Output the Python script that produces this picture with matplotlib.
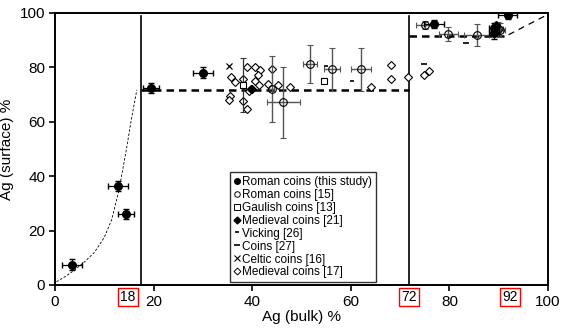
import matplotlib
matplotlib.use("Agg")
import matplotlib.pyplot as plt
from matplotlib.lines import Line2D
import matplotlib.transforms as mtrans

plt.rcParams['font.family'] = ['Liberation Sans', 'DejaVu Sans']

# Roman coins (this study)
rc_x = [3.4, 12.8, 14.4, 19.5, 30.0, 76.9, 89.0, 89.0, 91.8]
rc_y = [7.4, 36.4, 26.1, 72.4, 78.0, 96.0, 94.4, 92.5, 99.3]
rc_xerr = [2.0, 2.0, 1.6, 1.6, 2.0, 2.0, 1.0, 1.0, 2.0]
rc_yerr = [2.0, 2.0, 2.0, 2.0, 2.0, 1.5, 2.0, 2.0, 1.5]

# Roman coins [15]
r15_x = [51.7, 56.2, 62.0, 46.3, 44.0, 75.1, 79.8, 85.5, 89.9, 90.3]
r15_y = [81.1, 79.3, 79.3, 67.2, 72.1, 95.6, 92.3, 91.9, 94.1, 93.8]
r15_xerr = [1.4, 1.7, 2.0, 3.3, 0.5, 1.9, 2.0, 2.5, 1.0, 1.0]
r15_yerr = [7.0, 8.0, 8.0, 13.0, 12.0, 1.5, 2.5, 4.0, 2.5, 2.5]

# Gaulish coins [13]
g13_x = [54.6, 38.1]
g13_y = [75.1, 73.5]
g13_yerr = [1.0, 10.0]

# Medieval coins [21]
m21_x = [39.7, 89.5]
m21_y = [72.0, 95.5]

# Vicking [26]
v26_x = [60.2, 55.0]
v26_y = [75.1, 80.5]

# Coins [27]
c27_x = [83.4, 74.9]
c27_y = [89.1, 81.3]

# Celtic coins [16]
c16_x = [35.2]
c16_y = [80.5]

# Medieval coins [17]
m17_x = [38.9, 40.6, 41.6, 41.2, 35.8, 36.5, 38.1, 40.6, 41.4, 39.9, 39.4, 43.3,
         44.0, 45.3, 47.7, 35.5, 35.2, 38.1, 38.9, 64.0, 68.2, 68.2, 71.5, 74.9, 75.9]
m17_y = [80.3, 80.0, 78.9, 77.2, 76.6, 74.5, 75.7, 75.0, 73.5, 72.1, 71.5, 73.8,
         79.4, 73.5, 72.9, 69.6, 68.0, 67.8, 64.7, 72.7, 80.9, 75.6, 76.6, 77.2, 78.7]

# Fit curve
curve_x = [0.3, 2.0, 4.0, 6.0, 8.0, 10.0, 11.5, 13.0, 14.5, 15.5, 16.6]
curve_y = [1.2, 3.0, 5.5, 8.5, 12.0, 17.5, 24.0, 35.0, 50.0, 61.0, 71.7]

# Plateau lines
plat1_x = [17.5, 71.8]
plat1_y = [71.7, 71.7]
plat2_x = [71.8, 92.0]
plat2_y = [91.5, 91.5]
diag_x = [92.0, 100.0]
diag_y = [92.0, 99.5]

vlines = [17.5, 71.8]
box_labels = ["18", "72", "92"]
box_pos = [14.8, 71.8, 92.3]

fig = plt.figure(figsize=(5.65, 3.32), dpi=100)
ax = fig.add_axes([0.0973, 0.1416, 0.8727, 0.8193])
ax.set_xlim(0, 100)
ax.set_ylim(0, 100)

for v in vlines:
    ax.plot([v, v], [0, 98.8], color='black', lw=1.2, zorder=2)

ax.plot(curve_x, curve_y, color='black', lw=0.6, ls=(0, (3, 2)), zorder=2)
ax.plot(plat1_x, plat1_y, color='black', lw=1.8, ls=(0, (3, 2)), zorder=2)
ax.plot(plat2_x, plat2_y, color='black', lw=1.8, ls=(0, (3, 2)), zorder=2)
ax.plot(diag_x, diag_y, color='black', lw=0.9, ls=(0, (5, 4)), zorder=2)

# Medieval coins [17]
ax.plot(m17_x, m17_y, ls='none', marker='D', ms=4, mfc='white', mec='black', mew=0.8, zorder=3)
# Celtic
ax.plot(c16_x, c16_y, ls='none', marker='x', ms=5, color='black', mew=0.9, zorder=3)
# Gaulish
ax.errorbar(g13_x, g13_y, yerr=g13_yerr, ls='none', marker='s', ms=5, mfc='white', mec='black',
            mew=0.8, ecolor='#333333', elinewidth=0.9, capsize=2, zorder=3)
# Roman [15]
ax.errorbar(r15_x, r15_y, xerr=r15_xerr, yerr=r15_yerr, ls='none', marker='o', ms=5.5,
            mfc='none', mec='black', mew=0.8, ecolor='#555555', elinewidth=1.0, capsize=2, zorder=4)
# Vicking
ax.plot(v26_x, v26_y, ls='none', marker='_', ms=3, color='black', mew=1.2, zorder=4)
# Coins [27]
ax.plot(c27_x, c27_y, ls='none', marker='_', ms=5, color='black', mew=1.2, zorder=4)
# Medieval [21]
ax.plot(m21_x, m21_y, ls='none', marker='D', ms=4, color='black', zorder=4)
# Roman this study
ax.errorbar(rc_x, rc_y, xerr=rc_xerr, yerr=rc_yerr, ls='none', marker='o', ms=5.5,
            color='black', ecolor='black', elinewidth=0.9, capsize=2, zorder=5)

ax.set_xticks([0, 20, 40, 60, 80, 100])
ax.set_yticks([0, 20, 40, 60, 80, 100])
ax.tick_params(direction='out', length=4, width=1.2, labelsize=11, pad=3)
for s in ax.spines.values():
    s.set_linewidth(1.4)
ax.set_xlabel('Ag (bulk) %', fontsize=11, labelpad=1)
ax.set_ylabel('Ag (surface) %', fontsize=11, labelpad=4)

tr = mtrans.blended_transform_factory(ax.transData, ax.transAxes)
for lab, p in zip(box_labels, box_pos):
    ax.text(p, -0.045, lab, transform=tr, ha='center', va='center', fontsize=10,
            bbox=dict(boxstyle='square,pad=0.15', fc='white', ec='red', lw=1.0), zorder=10, clip_on=False)

handles = [
    Line2D([], [], ls='none', marker='o', ms=4, color='black'),
    Line2D([], [], ls='none', marker='o', ms=4, mfc='white', mec='black', mew=0.7),
    Line2D([], [], ls='none', marker='s', ms=4, mfc='white', mec='black', mew=0.7),
    Line2D([], [], ls='none', marker='D', ms=3.5, color='black'),
    Line2D([], [], ls='none', marker='_', ms=3, color='black', mew=1.2),
    Line2D([], [], ls='none', marker='_', ms=5, color='black', mew=1.2),
    Line2D([], [], ls='none', marker='x', ms=4, color='black', mew=0.8),
    Line2D([], [], ls='none', marker='D', ms=3.5, mfc='white', mec='black', mew=0.7),
]
labels = ['Roman coins (this study)', 'Roman coins [15]', 'Gaulish coins [13]',
          'Medieval coins [21]', 'Vicking [26]', 'Coins [27]', 'Celtic coins [16]',
          'Medieval coins [17]']
leg = ax.legend(handles, labels, loc='lower left', bbox_to_anchor=(0.355, 0.011),
                fontsize=8.5, frameon=True, fancybox=False, edgecolor='black',
                handlelength=0.5, handletextpad=0.25, labelspacing=0.08,
                borderpad=0.3, borderaxespad=0)
leg.get_frame().set_linewidth(1.0)
leg.set_zorder(20)

fig.savefig('out.png', dpi=100)
